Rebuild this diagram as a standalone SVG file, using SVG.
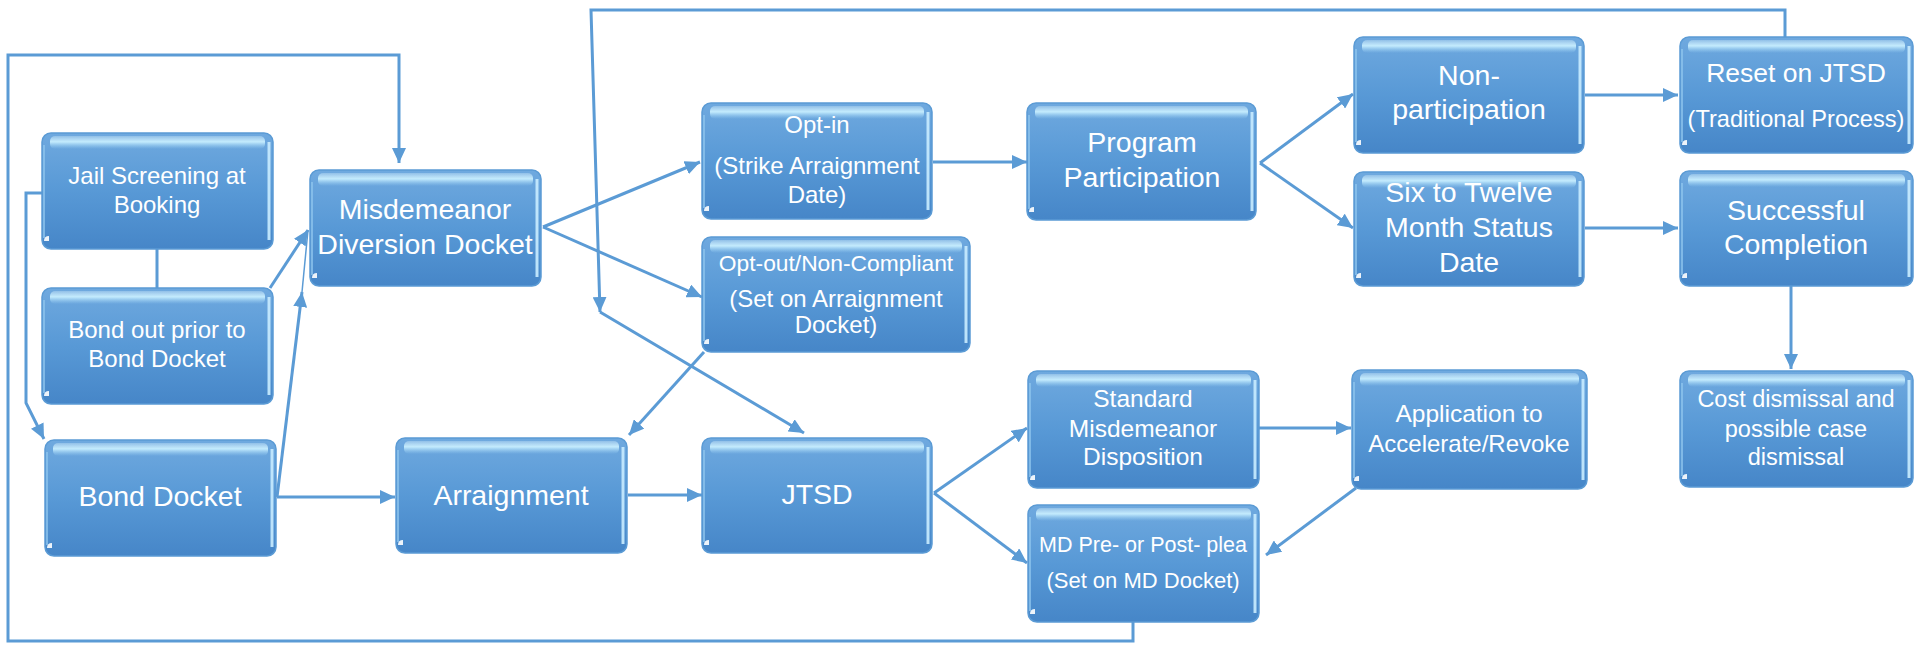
<svg xmlns="http://www.w3.org/2000/svg" width="1919" height="645" viewBox="0 0 1919 645">
<defs>
<linearGradient id="bg" x1="0" y1="0" x2="0" y2="1">
<stop offset="0" stop-color="#6fa9df"/>
<stop offset="0.5" stop-color="#5899d6"/>
<stop offset="1" stop-color="#4686c8"/>
</linearGradient>
<linearGradient id="hl" x1="0" y1="0" x2="0" y2="1">
<stop offset="0" stop-color="#e0f6ff" stop-opacity="0.3"/>
<stop offset="0.45" stop-color="#c8efff" stop-opacity="0.95"/>
<stop offset="1" stop-color="#9fd3f5" stop-opacity="0"/>
</linearGradient>
<marker id="ah" markerUnits="userSpaceOnUse" markerWidth="16" markerHeight="14" refX="15" refY="7" orient="auto">
<path d="M0,0 L15,7 L0,14 z" fill="#5b9bd5"/>
</marker>
<style>
.box{fill:url(#bg);stroke:#5b9bd5;stroke-width:1.5}
.hl{fill:url(#hl)}
.edge{fill:none;stroke:#c9ecff;stroke-width:3;stroke-opacity:0.9}
.ledge{fill:none;stroke:#8cc3ec;stroke-width:2;stroke-opacity:0.8}
.cn{fill:#ffffff;fill-opacity:0.9}
text{font-family:"Liberation Sans",Arial,sans-serif;fill:#ffffff;text-anchor:middle}
.s{font-size:24px}
.b{font-size:28.5px}
.c{fill:none;stroke:#5b9bd5;stroke-width:3}
.a{marker-end:url(#ah)}
</style>
</defs>

<g id="connectors">
<path class="c a" d="M1133,622 V641 H8 V55 H399 V163"/>
<path class="c a" d="M42,193 H26 V403 L44,439"/>
<path class="c" d="M157,249 V288"/>
<path class="c a" d="M270,288 L308,230"/>
<path class="c a" d="M277,497 L302,292"/>
<path class="c" style="stroke-width:1.5" d="M302,292 L308,230"/>
<path class="c a" d="M277,497 H395"/>
<path class="c a" d="M543,227 L700,162"/>
<path class="c a" d="M543,227 L702,297"/>
<path class="c a" d="M1785,37 V10 H591 L600,312"/>
<path class="c a" d="M600,312 L804,433"/>
<path class="c a" d="M704,352 L629,435"/>
<path class="c a" d="M628,495 H702"/>
<path class="c a" d="M933,162 H1027"/>
<path class="c a" d="M934,493 L1027,428"/>
<path class="c a" d="M934,493 L1027,563"/>
<path class="c a" d="M1260,163 L1353,94"/>
<path class="c a" d="M1260,163 L1353,228"/>
<path class="c a" d="M1585,95 H1678"/>
<path class="c a" d="M1585,228 H1678"/>
<path class="c a" d="M1791,286 V369"/>
<path class="c a" d="M1259,428 H1351"/>
<path class="c a" d="M1356,488 L1266,555"/>
</g>

<g id="jail">
<rect class="box" x="42" y="133" width="231" height="116" rx="9"/>
<rect class="hl" x="50" y="136" width="215" height="13" rx="5"/>
<path class="edge" d="M269,142 V240"/>
<path class="ledge" d="M44,145 V238"/>
<path class="cn" d="M44,241 q0,-5 5,-5 v5 z"/>
<text class="s" x="157" y="184">Jail Screening at</text>
<text class="s" x="157" y="213">Booking</text>
</g>

<g id="bondout">
<rect class="box" x="42" y="288" width="231" height="116" rx="9"/>
<rect class="hl" x="50" y="291" width="215" height="13" rx="5"/>
<path class="edge" d="M269,297 V395"/>
<path class="ledge" d="M44,300 V393"/>
<path class="cn" d="M44,396 q0,-5 5,-5 v5 z"/>
<text class="s" x="157" y="338">Bond out prior to</text>
<text class="s" x="157" y="367">Bond Docket</text>
</g>

<g id="bond">
<rect class="box" x="45" y="440" width="231" height="116" rx="9"/>
<rect class="hl" x="53" y="443" width="215" height="13" rx="5"/>
<path class="edge" d="M272,449 V547"/>
<path class="ledge" d="M47,452 V545"/>
<path class="cn" d="M47,548 q0,-5 5,-5 v5 z"/>
<text class="b" x="160" y="506">Bond Docket</text>
</g>

<g id="mdd">
<rect class="box" x="310" y="170" width="231" height="116" rx="9"/>
<rect class="hl" x="318" y="173" width="215" height="13" rx="5"/>
<path class="edge" d="M537,179 V277"/>
<path class="ledge" d="M312,182 V275"/>
<path class="cn" d="M312,278 q0,-5 5,-5 v5 z"/>
<text class="b" x="425" y="219">Misdemeanor</text>
<text class="b" x="425" y="254">Diversion Docket</text>
</g>

<g id="arraignment">
<rect class="box" x="396" y="438" width="231" height="115" rx="9"/>
<rect class="hl" x="404" y="441" width="215" height="13" rx="5"/>
<path class="edge" d="M623,447 V544"/>
<path class="ledge" d="M398,450 V542"/>
<path class="cn" d="M398,545 q0,-5 5,-5 v5 z"/>
<text class="b" x="511" y="505">Arraignment</text>
</g>

<g id="optin">
<rect class="box" x="702" y="103" width="230" height="116" rx="9"/>
<rect class="hl" x="710" y="106" width="214" height="13" rx="5"/>
<path class="edge" d="M928,112 V210"/>
<path class="ledge" d="M704,115 V208"/>
<path class="cn" d="M704,211 q0,-5 5,-5 v5 z"/>
<text class="s" x="817" y="133">Opt-in</text>
<text class="s" x="817" y="174">(Strike Arraignment</text>
<text class="s" x="817" y="203">Date)</text>
</g>

<g id="optout">
<rect class="box" x="702" y="237" width="268" height="115" rx="9"/>
<rect class="hl" x="710" y="240" width="252" height="13" rx="5"/>
<path class="edge" d="M966,246 V343"/>
<path class="ledge" d="M704,249 V341"/>
<path class="cn" d="M704,344 q0,-5 5,-5 v5 z"/>
<text class="s" x="836" y="271" style="font-size:22.8px">Opt-out/Non-Compliant</text>
<text class="s" x="836" y="307">(Set on Arraignment</text>
<text class="s" x="836" y="333">Docket)</text>
</g>

<g id="jtsd">
<rect class="box" x="702" y="438" width="230" height="115" rx="9"/>
<rect class="hl" x="710" y="441" width="214" height="13" rx="5"/>
<path class="edge" d="M928,447 V544"/>
<path class="ledge" d="M704,450 V542"/>
<path class="cn" d="M704,545 q0,-5 5,-5 v5 z"/>
<text class="b" x="817" y="504">JTSD</text>
</g>

<g id="program">
<rect class="box" x="1027" y="103" width="229" height="117" rx="9"/>
<rect class="hl" x="1035" y="106" width="213" height="13" rx="5"/>
<path class="edge" d="M1252,112 V211"/>
<path class="ledge" d="M1029,115 V209"/>
<path class="cn" d="M1029,212 q0,-5 5,-5 v5 z"/>
<text class="b" x="1142" y="152">Program</text>
<text class="b" x="1142" y="187">Participation</text>
</g>

<g id="standard">
<rect class="box" x="1028" y="371" width="231" height="117" rx="9"/>
<rect class="hl" x="1036" y="374" width="215" height="13" rx="5"/>
<path class="edge" d="M1255,380 V479"/>
<path class="ledge" d="M1030,383 V477"/>
<path class="cn" d="M1030,480 q0,-5 5,-5 v5 z"/>
<text class="s" x="1143" y="407" style="font-size:24.5px">Standard</text>
<text class="s" x="1143" y="437" style="font-size:24.5px">Misdemeanor</text>
<text class="s" x="1143" y="465" style="font-size:24.5px">Disposition</text>
</g>

<g id="mdpre">
<rect class="box" x="1028" y="505" width="231" height="117" rx="9"/>
<rect class="hl" x="1036" y="508" width="215" height="13" rx="5"/>
<path class="edge" d="M1255,514 V613"/>
<path class="ledge" d="M1030,517 V611"/>
<path class="cn" d="M1030,614 q0,-5 5,-5 v5 z"/>
<text class="s" x="1143" y="552" style="font-size:21.5px">MD Pre- or Post- plea</text>
<text class="s" x="1143" y="588" style="font-size:22px">(Set on MD Docket)</text>
</g>

<g id="nonpart">
<rect class="box" x="1354" y="37" width="230" height="116" rx="9"/>
<rect class="hl" x="1362" y="40" width="214" height="13" rx="5"/>
<path class="edge" d="M1580,46 V144"/>
<path class="ledge" d="M1356,49 V142"/>
<path class="cn" d="M1356,145 q0,-5 5,-5 v5 z"/>
<text class="b" x="1469" y="85">Non-</text>
<text class="b" x="1469" y="119">participation</text>
</g>

<g id="six">
<rect class="box" x="1354" y="172" width="230" height="114" rx="9"/>
<rect class="hl" x="1362" y="175" width="214" height="13" rx="5"/>
<path class="edge" d="M1580,181 V277"/>
<path class="ledge" d="M1356,184 V275"/>
<path class="cn" d="M1356,278 q0,-5 5,-5 v5 z"/>
<text class="b" x="1469" y="202">Six to Twelve</text>
<text class="b" x="1469" y="237">Month Status</text>
<text class="b" x="1469" y="272">Date</text>
</g>

<g id="application">
<rect class="box" x="1352" y="370" width="235" height="119" rx="9"/>
<rect class="hl" x="1360" y="373" width="219" height="13" rx="5"/>
<path class="edge" d="M1583,379 V480"/>
<path class="ledge" d="M1354,382 V478"/>
<path class="cn" d="M1354,481 q0,-5 5,-5 v5 z"/>
<text class="s" x="1469" y="422" style="font-size:24.5px">Application to</text>
<text class="s" x="1469" y="452">Accelerate/Revoke</text>
</g>

<g id="reset">
<rect class="box" x="1680" y="37" width="233" height="116" rx="9"/>
<rect class="hl" x="1688" y="40" width="217" height="13" rx="5"/>
<path class="edge" d="M1909,46 V144"/>
<path class="ledge" d="M1682,49 V142"/>
<path class="cn" d="M1682,145 q0,-5 5,-5 v5 z"/>
<text class="b" x="1796" y="82" style="font-size:26.5px">Reset on JTSD</text>
<text class="s" x="1796" y="127" style="font-size:23.6px">(Traditional Process)</text>
</g>

<g id="success">
<rect class="box" x="1680" y="171" width="233" height="115" rx="9"/>
<rect class="hl" x="1688" y="174" width="217" height="13" rx="5"/>
<path class="edge" d="M1909,180 V277"/>
<path class="ledge" d="M1682,183 V275"/>
<path class="cn" d="M1682,278 q0,-5 5,-5 v5 z"/>
<text class="b" x="1796" y="220">Successful</text>
<text class="b" x="1796" y="254">Completion</text>
</g>

<g id="cost">
<rect class="box" x="1680" y="371" width="233" height="116" rx="9"/>
<rect class="hl" x="1688" y="374" width="217" height="13" rx="5"/>
<path class="edge" d="M1909,380 V478"/>
<path class="ledge" d="M1682,383 V476"/>
<path class="cn" d="M1682,479 q0,-5 5,-5 v5 z"/>
<text class="s" x="1796" y="407" style="font-size:23.5px">Cost dismissal and</text>
<text class="s" x="1796" y="437" style="font-size:23.5px">possible case</text>
<text class="s" x="1796" y="465" style="font-size:23.5px">dismissal</text>
</g>
</svg>
